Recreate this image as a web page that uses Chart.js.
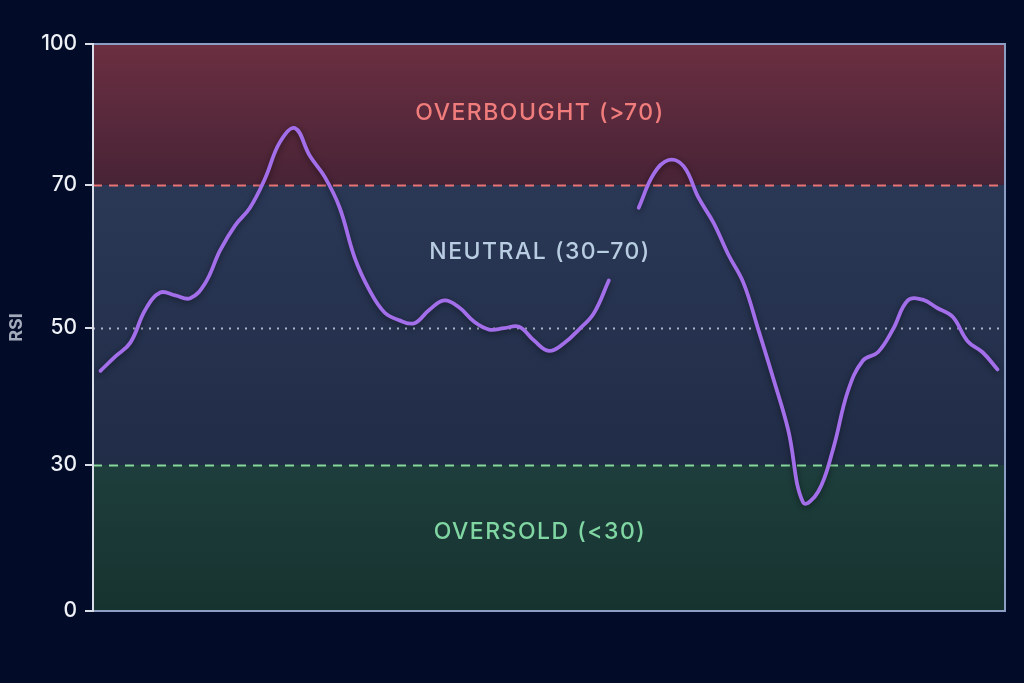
<!DOCTYPE html>
<html>
<head>
<meta charset="utf-8">
<script src="https://cdn.jsdelivr.net/npm/chart.js@4.4.1/dist/chart.umd.min.js"></script>
<style>
  html, body { margin: 0; padding: 0; background: #020b27; }
  #wrap { width: 1024px; height: 683px; position: relative; }
</style>
</head>
<body>
<div id="wrap"><canvas id="rsi-chart"></canvas></div>
<script>
// RSI readings, one per session (null = missing reading)
const rsiValues = [
  43.7, 45.8, 47.8, 52.5, 54.9, 54.5, 54.1, 56.2, 60.8, 64.3,
  66.8, 71.3, 79.1, 82.1, 76.2, 71.7, 66.8, 59.8, 55.2, 52.1,
  51.0, 50.6, 52.5, 53.8, 52.8, 50.8, 49.7, 49.9, 50.1, 48.1,
  46.6, 47.7, 49.7, 52.0, 56.6, null, 66.8, 72.3, 75.3, 74.0,
  68.2, 64.7, 60.2, 56.3, 49.7, 42.6, 35.1, 22.3, 24.5, 32.3,
  40.8, 45.2, 46.4, 49.7, 53.8, 53.9, 52.7, 51.5, 48.0, 46.4,
  43.9
];
const sessions = rsiValues.map((_, i) => String(i + 1));

// y axis breakpoints
const tickValues = [0, 30, 50, 70, 100];

const zoneNames = ['OVERBOUGHT (>70)', 'NEUTRAL (30–70)', 'OVERSOLD (<30)'];
const zoneNameLevels = [85.3, 60.6, 16.2];
const zoneNameColors = ['#f07c7c', '#b9cde2', '#80d6a2'];

// share of the axis height taken up to each breakpoint
const BREAK_POS = [0, 0.2575, 0.5, 0.7515, 1];

// Scale that gives each band roughly the same height
class ZoneScale extends Chart.LinearScale {
  decimalFor(v) {
    const b = tickValues, n = b.length - 1;
    for (let i = 0; i < n; i++) {
      if (v <= b[i + 1] || i === n - 1) {
        const t = (v - b[i]) / (b[i + 1] - b[i]);
        return BREAK_POS[i] + t * (BREAK_POS[i + 1] - BREAK_POS[i]);
      }
    }
  }
  getPixelForValue(v) {
    if (v === null || v === undefined) return NaN;
    return this.getPixelForDecimal(this.decimalFor(v));
  }
  getValueForPixel(p) {
    const b = tickValues, n = b.length - 1;
    const d = this.getDecimalForPixel(p);
    let i = 0;
    while (i < n - 1 && d > BREAK_POS[i + 1]) i++;
    const t = (d - BREAK_POS[i]) / (BREAK_POS[i + 1] - BREAK_POS[i]);
    return b[i] + t * (b[i + 1] - b[i]);
  }
  buildTicks() {
    return tickValues.map(v => ({ value: v }));
  }
}
ZoneScale.id = 'zone';
ZoneScale.defaults = Chart.LinearScale.defaults;
Chart.register(ZoneScale);

const zonesPlugin = {
  id: 'zones',
  beforeDraw(chart) {
    const { ctx, chartArea: a, scales: { y } } = chart;
    const y70 = y.getPixelForValue(70), y30 = y.getPixelForValue(30);
    const bands = [
      [a.top, y70, '#6b2f41', '#482336'],
      [y70, y30, '#2a3856', '#212c47'],
      [y30, a.bottom, '#1d3e3c', '#17332f']
    ];
    ctx.save();
    bands.forEach(([t, b, c1, c2]) => {
      const g = ctx.createLinearGradient(0, t, 0, b);
      g.addColorStop(0, c1);
      g.addColorStop(1, c2);
      ctx.fillStyle = g;
      ctx.fillRect(a.left, t, a.right - a.left, b - t);
    });
    ctx.restore();
  },
  beforeDatasetsDraw(chart) {
    const { ctx, chartArea: a, scales: { y } } = chart;
    ctx.save();
    const lines = [
      [70, '#e97474', [9, 7]],
      [30, '#86d89c', [9, 7]],
      [50, '#a9b3c8', [2, 6]]
    ];
    lines.forEach(([v, color, dash]) => {
      const py = Math.round(y.getPixelForValue(v)) + 0.5;
      ctx.beginPath();
      ctx.setLineDash(dash);
      ctx.strokeStyle = color;
      ctx.lineWidth = 2;
      ctx.moveTo(a.left, py);
      ctx.lineTo(a.right, py);
      ctx.stroke();
    });
    ctx.setLineDash([]);
    ctx.font = "500 23px Inter, 'Noto Sans', sans-serif";
    ctx.letterSpacing = '1.5px';
    ctx.textAlign = 'center';
    ctx.textBaseline = 'middle';
    const cx = 540;
    zoneNames.forEach((name, i) => {
      ctx.fillStyle = zoneNameColors[i];
      ctx.fillText(name, cx, y.getPixelForValue(zoneNameLevels[i]));
    });
    ctx.restore();
  },
  beforeDatasetDraw(chart) {
    const ctx = chart.ctx;
    ctx.save();
    ctx.shadowColor = 'rgba(0, 0, 0, 0.45)';
    ctx.shadowBlur = 6;
    ctx.shadowOffsetY = 2;
  },
  afterDatasetDraw(chart) {
    chart.ctx.restore();
  },
  afterDraw(chart) {
    const { ctx, chartArea: a } = chart;
    ctx.save();
    ctx.strokeStyle = '#8d9ec4';
    ctx.lineWidth = 2;
    ctx.strokeRect(a.left, a.top, a.right - a.left, a.bottom - a.top);
    ctx.strokeStyle = '#d9dee8';
    ctx.beginPath();
    ctx.moveTo(a.left, a.top - 1);
    ctx.lineTo(a.left, a.bottom + 1);
    ctx.stroke();
    ctx.restore();
  }
};

new Chart(document.getElementById('rsi-chart'), {
  type: 'line',
  data: {
    labels: sessions,
    datasets: [{
      label: 'RSI',
      data: rsiValues,
      borderColor: '#a36ee9',
      borderWidth: 3.8,
      pointRadius: 0,
      tension: 0.4,
      borderCapStyle: 'round',
      spanGaps: false,
      fill: false
    }]
  },
  options: {
    responsive: true,
    maintainAspectRatio: false,
    animation: false,
    layout: { padding: { left: 0, right: 19, top: 44, bottom: 72 } },
    plugins: {
      legend: { display: false },
      tooltip: { enabled: false }
    },
    scales: {
      x: {
        type: 'category',
        offset: true,
        display: false
      },
      y: {
        type: 'zone',
        min: 0,
        max: 100,
        afterFit(s) { s.width = 93; },
        border: { display: false },
        grid: {
          drawOnChartArea: false,
          drawTicks: true,
          tickLength: 8,
          tickColor: '#d9dee8',
          lineWidth: 2
        },
        ticks: {
          padding: 8,
          color: '#eef1f6',
          font: { family: "Inter, 'Noto Sans', sans-serif", size: 21, weight: '500' }
        },
        title: {
          display: true,
          text: 'RSI',
          color: '#a3abbb',
          padding: { top: 6, bottom: 0 },
          font: { family: "Inter, 'Noto Sans', sans-serif", size: 18, weight: '700' }
        }
      }
    }
  },
  plugins: [zonesPlugin]
});
</script>
</body>
</html>
